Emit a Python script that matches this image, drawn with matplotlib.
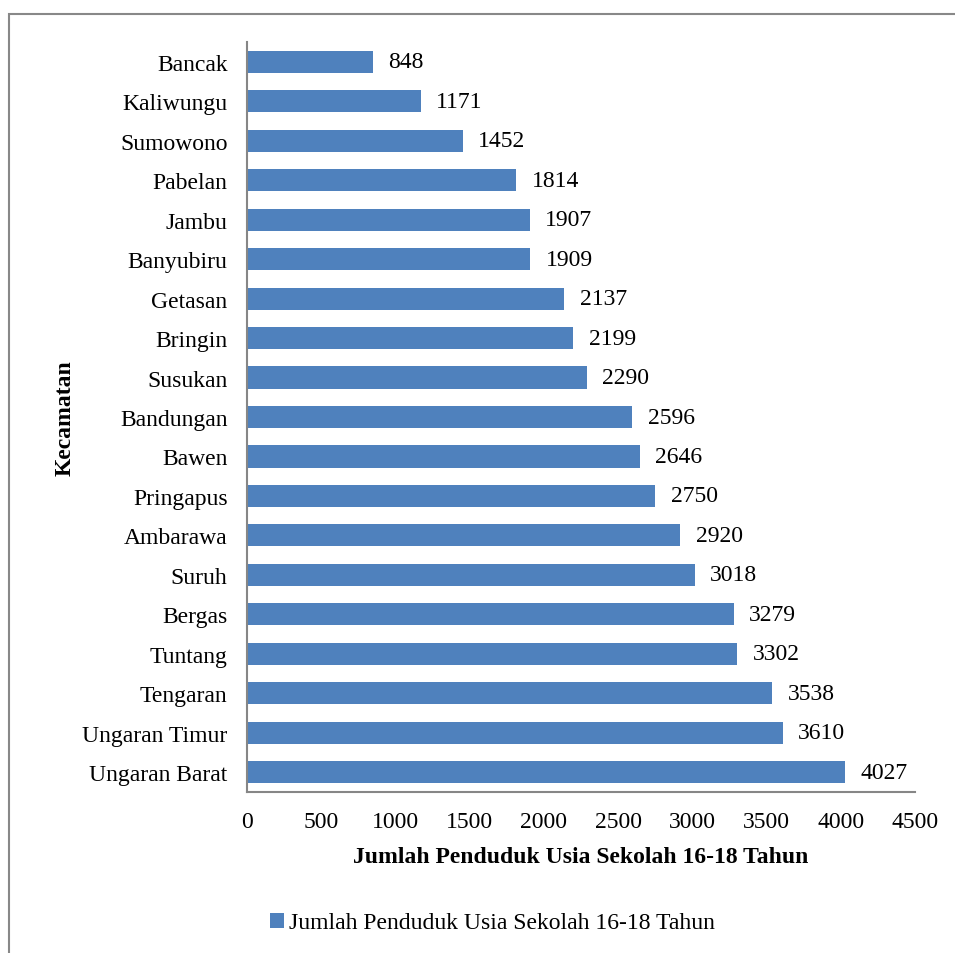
import matplotlib.pyplot as plt
from matplotlib.patches import Rectangle

plt.rcParams['font.family'] = ['Liberation Serif', 'DejaVu Serif']

kecamatan = ['Bancak', 'Kaliwungu', 'Sumowono', 'Pabelan', 'Jambu', 'Banyubiru',
             'Getasan', 'Bringin', 'Susukan', 'Bandungan', 'Bawen', 'Pringapus',
             'Ambarawa', 'Suruh', 'Bergas', 'Tuntang', 'Tengaran', 'Ungaran Timur',
             'Ungaran Barat']
jumlah = [848, 1171, 1452, 1814, 1907, 1909, 2137, 2199, 2290, 2596, 2646, 2750,
          2920, 3018, 3279, 3302, 3538, 3610, 4027]
xticks = [0, 500, 1000, 1500, 2000, 2500, 3000, 3500, 4000, 4500]
seri = 'Jumlah Penduduk Usia Sekolah 16-18 Tahun'

W, H = 955, 954
fs = 17
fig = plt.figure(figsize=(W / 100, H / 100), dpi=100)
ax = fig.add_axes([247 / W, 1 - 793 / H, (915 - 247) / W, (793 - 43) / H])

bars = ax.barh(kecamatan, jumlah, height=0.56, color='#4F81BD', label=seri)
ax.set_ylim(len(kecamatan) - 0.5, -0.5)
ax.set_xlim(0, 4500)
ax.set_xticks(xticks)

for b, v in zip(bars, jumlah):
    ax.annotate(str(v), (b.get_width(), b.get_y() + b.get_height() / 2),
                xytext=(11, 0), textcoords='offset points', ha='left', va='center',
                fontsize=fs)

ax.tick_params(axis='both', length=0, labelsize=fs)
ax.tick_params(axis='x', pad=14)
ax.tick_params(axis='y', pad=14)
for s in ['top', 'right']:
    ax.spines[s].set_visible(False)
for s in ['left', 'bottom']:
    ax.spines[s].set_color('#868686')
    ax.spines[s].set_linewidth(1.5)

ax.set_xlabel(seri, fontsize=fs, fontweight='bold', labelpad=10)
ax.set_ylabel('Kecamatan', fontsize=fs, fontweight='bold', labelpad=5)

fig.legend(handles=[bars], labels=[seri], loc='center', bbox_to_anchor=(492 / W, 1 - 924 / H),
           frameon=False, fontsize=fs, handlelength=0.6, handleheight=0.6,
           handletextpad=0.2)

fig.patches.append(Rectangle((9 / W, -0.05), 1.1, 1 - 15 / H + 0.05,
                             transform=fig.transFigure, fill=False,
                             edgecolor='#888888', linewidth=1.5, clip_on=False))

fig.savefig('out.png', dpi=100)
